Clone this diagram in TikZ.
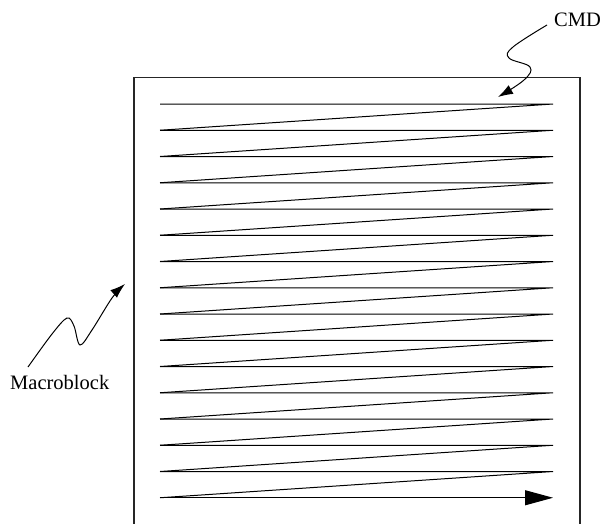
\documentclass[tikz,border=0pt]{standalone}
\usepackage{fontspec}
\setmainfont{Liberation Serif}
\usetikzlibrary{arrows.meta}
\begin{document}
\begin{tikzpicture}[x=1pt,y=-1pt,
  lbl/.style={inner sep=0pt,anchor=base west,font=\fontsize{20.5}{24}\selectfont},
  frame/.style={draw=black!85,line width=1.1pt},
  scan/.style={draw=black,line width=1pt},
  pointer/.style={draw=black,line width=1pt,-{Latex[length=15pt,width=10pt]}}]
\useasboundingbox (0,0) rectangle (600,523);
\draw[frame] (134,530) -- (134,77.7) -- (580,77.7) -- (580,530);
% zigzag scan
\foreach \i in {0,...,14}{
  \pgfmathsetmacro{\ya}{104+\i*26.25}
  \pgfmathsetmacro{\yb}{104+(\i+1)*26.25}
  \draw[scan] (160,\ya) -- (553,\ya) -- (160,\yb);
}
\coordinate (s) at (160,497.75);
\coordinate (e) at (553,497.75);
\draw[scan,-{Triangle[length=28pt,width=15pt]}] (s) -- (e);
% labels
\node[lbl] (cmd) at (554,26) {CMD};
\node[lbl] (mb) at (10,389) {Macroblock};
\draw[pointer] plot[smooth,tension=0.65] coordinates {(547,25) (513,47) (509,58) (530,67) (524,80) (498,97)};
\draw[pointer] plot[smooth,tension=0.55] coordinates {(28,367) (52,334) (67,318) (74,326) (80,345) (92,330) (112,298) (125,284)};
\end{tikzpicture}
\end{document}
